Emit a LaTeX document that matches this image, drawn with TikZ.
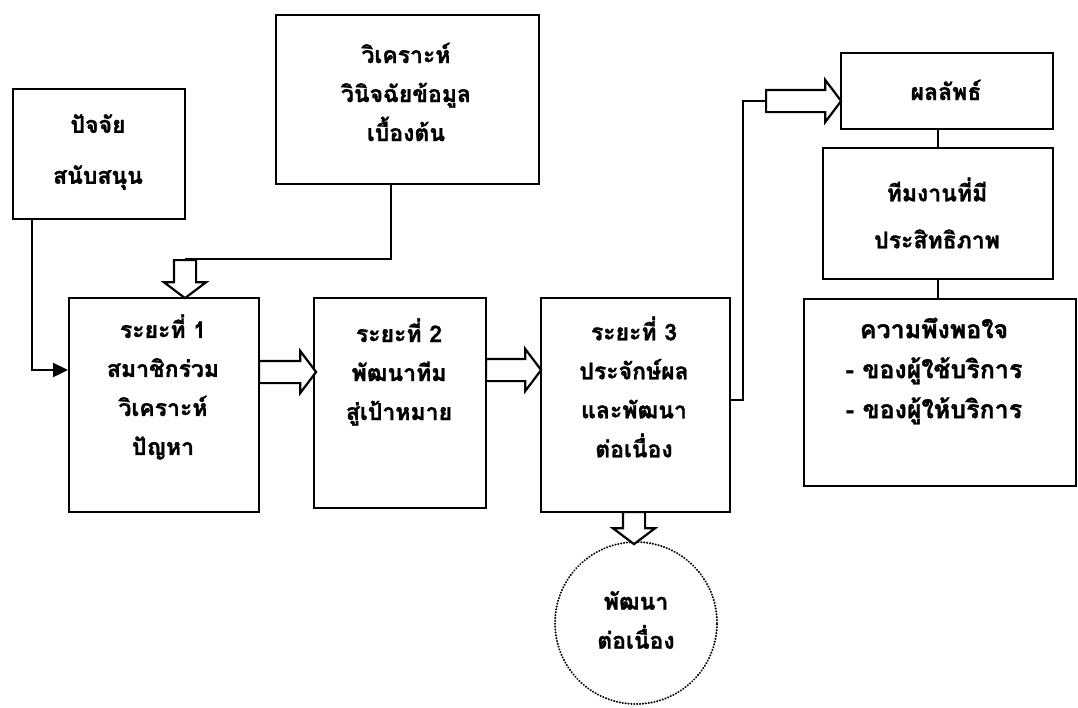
\documentclass[tikz,border=0pt]{standalone}
\usepackage{fontspec}
\newfontfamily\thaifont[Script=Thai, BoldFeatures={FakeBold=1.2}]{Loma}
\usetikzlibrary{positioning,shapes.arrows,arrows.meta}

\tikzset{
  blk/.style={draw, line width=2.4pt, rectangle, anchor=north west, inner sep=0pt},
  txt/.style={align=center, font=\thaifont\bfseries\fontsize{23}{39}\selectfont},
  link/.style={line width=2.4pt},
  fatarrow/.style={draw, line width=2.2pt, single arrow, fill=white, inner xsep=0pt,
    inner ysep=10pt, single arrow head extend=10pt, single arrow tip angle=106},
  dotcirc/.style={draw, circle, line width=2.2pt, dash pattern=on 0.1pt off 2.8pt,
    line cap=round, inner sep=0pt}
}

\begin{document}
\begin{tikzpicture}[x=1pt, y=-1pt]
\useasboundingbox (0,0) rectangle (1078,707);

% boxes
\node[blk, minimum width=172pt, minimum height=130pt] (supp) at (12,88) {};
\node[blk, minimum width=263pt, minimum height=169pt] (diag) at (275,14) {};
\node[blk, minimum width=190pt, minimum height=214pt] (s1) at (68,297) {};
\node[blk, minimum width=172pt, minimum height=210pt] (s2) at (313,297) {};
\node[blk, minimum width=189pt, minimum height=214pt] (s3) at (540,297) {};
\node[blk, minimum width=212pt, minimum height=76pt] (res) at (840,52) {};
\node[blk, minimum width=230pt, minimum height=131pt] (team) at (822,147) {};
\node[blk, minimum width=272pt, minimum height=187pt] (sat) at (803,298) {};
\node[dotcirc, minimum size=162pt] (cont) at (636,623) {};

% texts
\node[txt] (suppt) at (98,152) {ปัจจัย\\[12pt]สนับสนุน};
\node[txt] (diagt) at (406,92) {วิเคราะห์\\วินิจฉัยข้อมูล\\เบื้องต้น};
\node[txt] (s1t) at (163,387) {ระยะที่ 1\\สมาชิกร่วม\\วิเคราะห์\\ปัญหา};
\node[txt] (s2t) at (399,372) {ระยะที่ 2\\พัฒนาทีม\\สู่เป้าหมาย};
\node[txt] (s3t) at (634,387) {ระยะที่ 3\\ประจักษ์ผล\\และพัฒนา\\ต่อเนื่อง};
\node[txt] (rest) at (946,90) {ผลลัพธ์};
\node[txt] (teamt) at (937,213) {ทีมงานที่มี\\[8pt]ประสิทธิภาพ};
\node[txt, font=\thaifont\bfseries\fontsize{25}{40}\selectfont] (satt) at (934,371)
  {ความพึงพอใจ\\- ของผู้ใช้บริการ\\- ของผู้ให้บริการ};
\node[txt] (contt) at (636,620) {พัฒนา\\ต่อเนื่อง};

% corner points
\coordinate (k1) at (32,370);
\coordinate (k2) at (391,259);
\coordinate (k3) at (185,259);
\coordinate (k4) at (743,400);
\coordinate (k5) at (743,101);
\coordinate (k6) at (765,101);

% connectors
\draw[link, -{Triangle[length=15pt,width=14pt]}] (supp.south -| k1) -- (k1) -- (s1.west |- k1);
\draw[link] (diag.south -| k2) -- (k2) -- (k3);
\draw[link] (s3.east |- k4) -- (k4) -- (k5) -- (k6);
\draw[link] (team.north |- res.south) -- (team.north);
\draw[link] (team.south) -- (team.south |- sat.north);

% block arrows
\node[fatarrow, rotate=-90, anchor=tail, minimum height=38pt] (a0) at (k3) {};
\node[fatarrow, anchor=tail, minimum height=57pt] (a12) at (258,372) {};
\node[fatarrow, anchor=tail, minimum height=55pt] (a23) at (485,370) {};
\node[fatarrow, rotate=-90, anchor=tail, minimum height=32pt] (a3c) at (634,511) {};
\node[fatarrow, anchor=tail, minimum height=75pt] (a3r) at (k6) {};
\end{tikzpicture}
\end{document}
